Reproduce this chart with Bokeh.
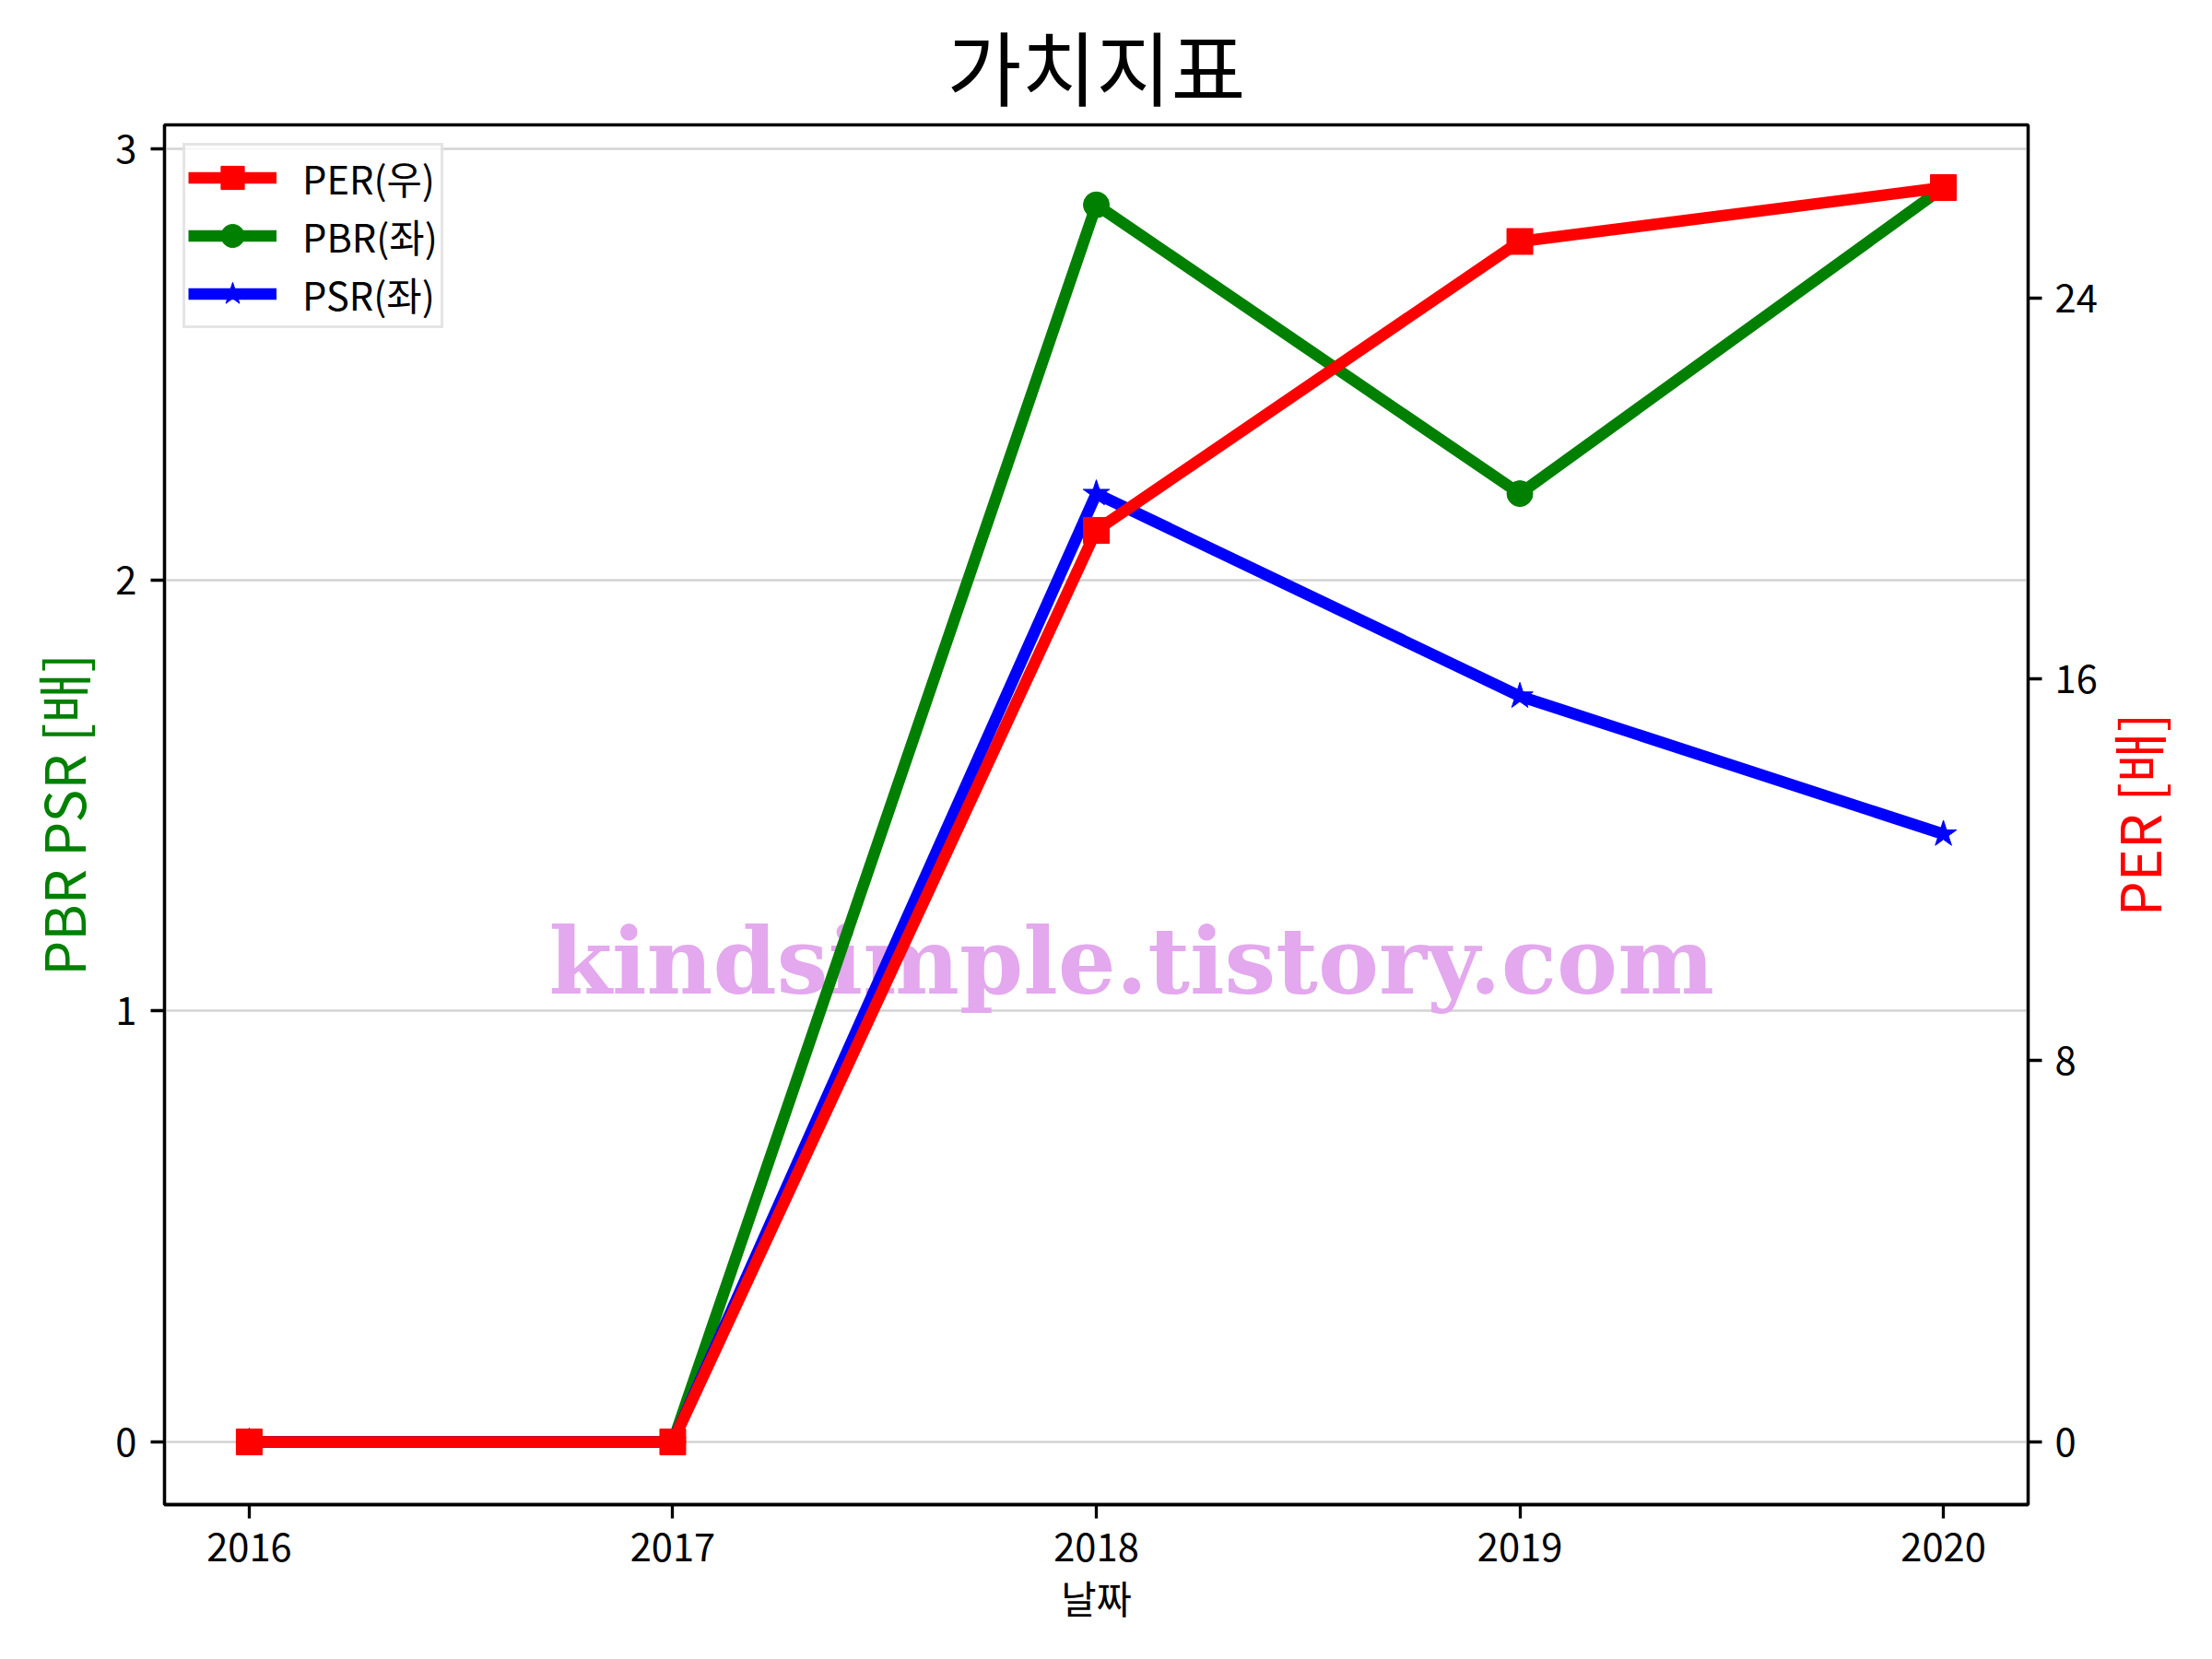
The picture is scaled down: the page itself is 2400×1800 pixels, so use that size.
import math
from bokeh.plotting import figure
from bokeh.models import Range1d, LinearAxis, FixedTicker, Legend, LegendItem, Label
from bokeh.embed import file_html
from bokeh.resources import INLINE

# ---- data ----
years = [2016, 2017, 2018, 2019, 2020]
year_labels = ["2016", "2017", "2018", "2019", "2020"]
per = [0, 0, 19.12, 25.18, 26.31]
pbr = [0, 0, 2.87, 2.20, 2.91]
psr = [0, 0, 2.20, 1.73, 1.41]
left_ticks = [0, 1, 2, 3]
right_ticks = [0, 8, 16, 24]

FONT = "Noto Sans CJK KR"
TICK_PX = "41.7px"
LW = 12.5
AXW = 3.3


def padded(lo, hi, m=0.05):
    span = hi - lo
    return lo - m * span, hi + m * span


x0, x1 = padded(min(years), max(years))
yl0, yl1 = padded(0, max(max(pbr), max(psr)))
yr0, yr1 = padded(0, max(per))

p = figure(width=2400, height=1800, output_backend="svg", toolbar_location=None,
           x_range=Range1d(x0, x1), y_range=Range1d(yl0, yl1),
           min_border_left=178, min_border_right=200, min_border_top=135,
           min_border_bottom=168)
p.extra_y_ranges = {"per": Range1d(yr0, yr1)}

p.background_fill_color = "white"
p.border_fill_color = "white"
p.outline_line_color = "black"
p.outline_line_width = AXW

# title
p.title.text = "가치지표"
p.title.align = "center"
p.title.text_font = FONT
p.title.text_font_size = "88px"
p.title.text_font_style = "normal"
p.title.text_color = "black"
p.title.standoff = 6

# grid
p.xgrid.visible = False
p.ygrid.ticker = FixedTicker(ticks=left_ticks)
p.ygrid.grid_line_color = "#d3d3d3"
p.ygrid.grid_line_width = 2.5


def style_axis(ax):
    ax.axis_line_width = AXW
    ax.axis_line_color = "black"
    ax.major_tick_line_width = AXW
    ax.major_tick_line_color = "black"
    ax.major_tick_out = 15
    ax.major_tick_in = 0
    ax.minor_tick_line_color = None
    ax.major_label_text_font = FONT
    ax.major_label_text_font_size = TICK_PX
    ax.major_label_text_color = "black"
    ax.axis_label_text_font = FONT
    ax.axis_label_text_font_style = "normal"
    ax.axis_label_text_color = "black"


xa = p.xaxis[0]
style_axis(xa)
xa.ticker = FixedTicker(ticks=years)
xa.major_label_overrides = {y: s for y, s in zip(years, year_labels)}
xa.major_label_standoff = 15
xa.axis_label = "날짜"
xa.axis_label_text_font_size = TICK_PX
xa.axis_label_standoff = 6

ya = p.yaxis[0]
style_axis(ya)
ya.ticker = FixedTicker(ticks=left_ticks)
ya.major_label_standoff = 15
ya.axis_label = "PBR PSR [배]"
ya.axis_label_text_font_size = "60px"
ya.axis_label_text_color = "green"
ya.axis_label_standoff = 12

ra = LinearAxis(y_range_name="per")
style_axis(ra)
ra.ticker = FixedTicker(ticks=right_ticks)
ra.major_label_standoff = 14
p.add_layout(ra, "right")

# right axis title, reading bottom-to-top like the left one (placed in right panel)
per_label = Label(x=2020.456, y=(yl0 + yl1) / 2,
                  text="PER [배]", angle=math.pi / 2, text_font=FONT,
                  text_font_size="60px", text_color="red",
                  text_align="center", text_baseline="middle")
p.add_layout(per_label, "right")

# watermark
wm = Label(x=2018.083, y=1.115, text="kindsimple.tistory.com",
           text_font="DejaVu Serif", text_font_style="bold", text_font_size="99px",
           text_color="#E3A8EE", text_align="center", text_baseline="alphabetic",
           level="underlay")
p.add_layout(wm)

# series
g_line = p.line(years, pbr, line_color="green", line_width=LW, line_join="round")
g_mark = p.scatter(years, pbr, marker="circle", size=28, fill_color="green", line_color="green")
b_line = p.line(years, psr, line_color="blue", line_width=LW, line_join="round")
b_mark = p.scatter(years, psr, marker="star", size=30, fill_color="blue", line_color="blue")
r_line = p.line(years, per, line_color="red", line_width=LW, line_join="round", y_range_name="per")
r_mark = p.scatter(years, per, marker="square", size=28, fill_color="red", line_color="red",
                   y_range_name="per")

legend = Legend(items=[
    LegendItem(label="PER(우)", renderers=[r_line, r_mark]),
    LegendItem(label="PBR(좌)", renderers=[g_line, g_mark]),
    LegendItem(label="PSR(좌)", renderers=[b_line, b_mark]),
], location="top_left")
legend.margin = 20
legend.padding = 3
legend.spacing = 0
legend.glyph_width = 96
legend.glyph_height = 63
legend.label_height = 63
legend.label_standoff = 28
legend.label_text_font = FONT
legend.label_text_font_size = TICK_PX
legend.label_text_color = "black"
legend.border_line_color = "#cccccc"
legend.border_line_width = 3
legend.background_fill_alpha = 0.8
p.add_layout(legend)

open("out.html", "w").write(file_html(p, INLINE))
